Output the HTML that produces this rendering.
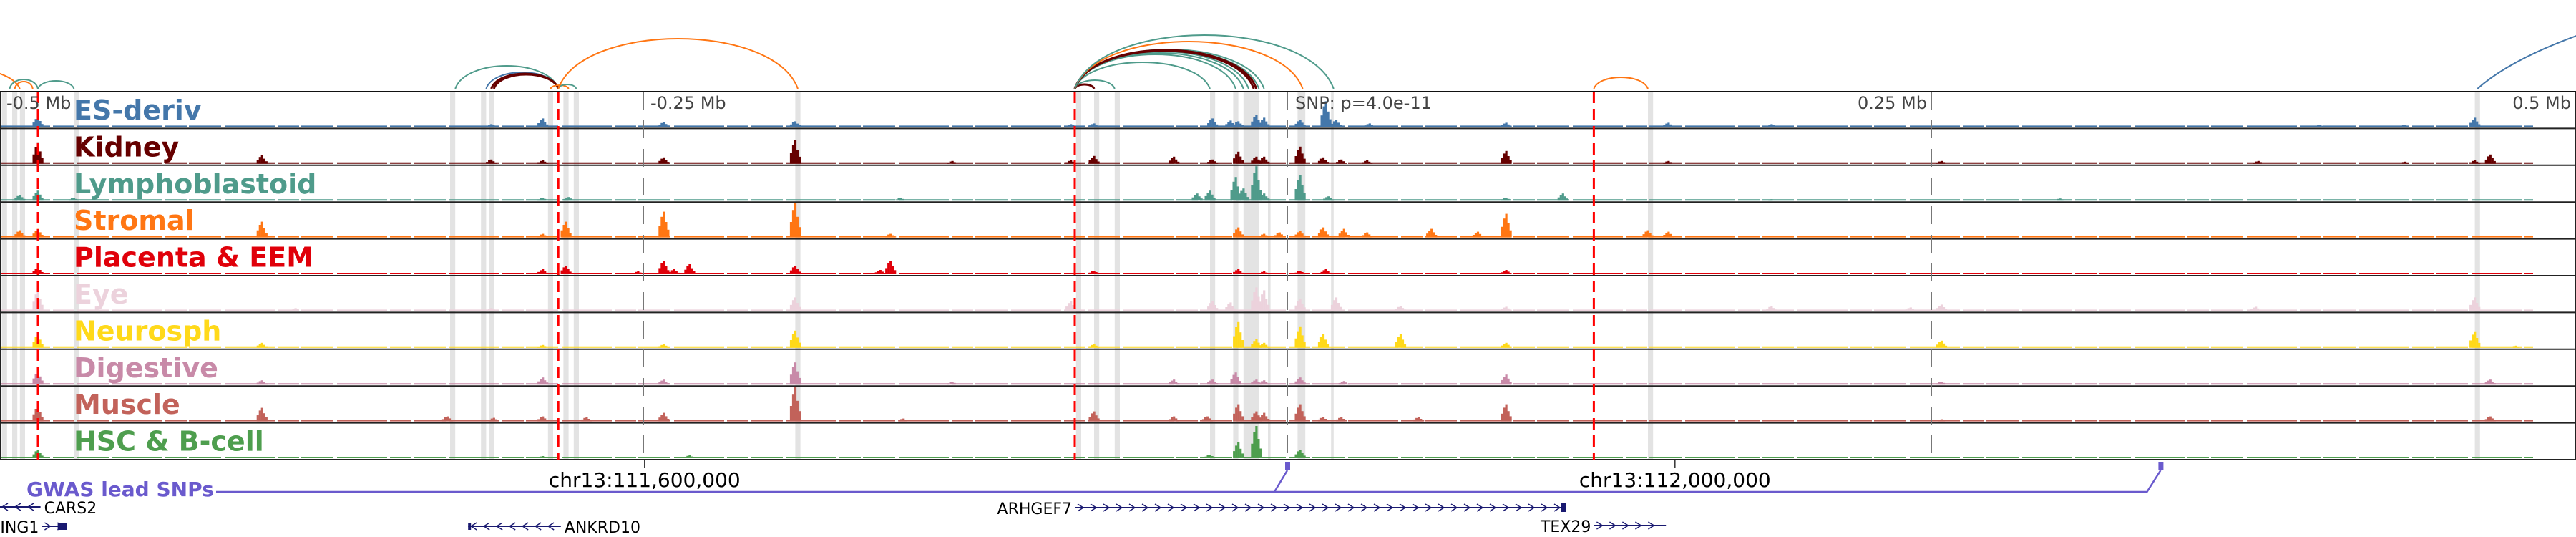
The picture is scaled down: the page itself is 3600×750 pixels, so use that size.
<!DOCTYPE html>
<html><head><meta charset="utf-8"><style>
html,body{margin:0;padding:0;background:#fff}
svg{display:block}
text{font-family:"DejaVu Sans","Liberation Sans",sans-serif}
</style></head><body>
<svg id="chart" width="3600" height="750" viewBox="0 0 3600 750" xmlns="http://www.w3.org/2000/svg">
<g id="bands"></g>
<g id="arcs"></g>
<g id="tracks"></g>
<g id="vlines"></g>
<g id="labels"></g>
<g id="genes"></g>
</svg>
<script>
// ---- data ----
const trackNames = ["ES-deriv","Kidney","Lymphoblastoid","Stromal","Placenta & EEM","Eye","Neurosph","Digestive","Muscle","HSC & B-cell"];
const trackColors = ["#4477aa","#660000","#4f9b8b","#ff7613","#e0000a","#ecd2dc","#ffd91a","#c88aa8","#c2625a","#4e9e4e"];
const peaksES = [[-485,14],[-309,4],[-289,12],[-242,7],[-191,8],[-84,4],[-75,5],[-29,12],[-22,9],[-19,8],[-12,17],[-9,13],[5,10],[15,36],[19,10],[32,5],[85,6],[148,6],[188,4],[401,3],[434,3],[461,13]];
const peaksKidney = [[-485,29],[-398,12],[-309,6],[-289,5],[-242,9],[-191,33],[-130,4],[-84,5],[-75,11],[-44,10],[-29,6],[-19,17],[-12,10],[-9,10],[5,24],[14,9],[21,6],[31,5],[85,18],[148,4],[254,4],[377,4],[434,3],[461,5],[467,13]];
const peaksLympho = [[-485,14],[-492,8],[-471,4],[-289,4],[-279,5],[-150,4],[-35,10],[-30,14],[-20,33],[-17,17],[-12,48],[-9,10],[5,36],[16,6],[85,4],[107,10],[188,2],[300,3]];
const peaksStromal = [[-492,10],[-485,12],[-398,22],[-289,5],[-280,22],[-242,36],[-191,48],[-154,5],[-19,14],[-9,5],[-3,7],[5,9],[14,14],[22,12],[31,7],[56,12],[74,8],[85,33],[140,10],[148,8]];
const peaksPlacenta = [[-485,10],[-289,7],[-280,12],[-252,4],[-242,19],[-238,7],[-232,14],[-191,12],[-158,6],[-154,19],[-75,5],[-19,7],[-9,4],[5,5],[15,7],[85,6]];
const peaksEye = [[-485,29],[-385,4],[-309,4],[-191,19],[-84,14],[-29,14],[-22,12],[-12,33],[-9,29],[5,17],[19,19],[44,7],[85,6],[188,7],[242,5],[254,9],[376,6],[461,19]];
const peaksNeuro = [[-485,19],[-398,7],[-289,4],[-242,5],[-191,24],[-75,5],[-19,36],[-12,12],[-9,7],[5,29],[14,19],[44,19],[85,7],[254,10],[461,23],[477,3]];
const peaksDigestive = [[-485,19],[-398,6],[-289,10],[-242,7],[-191,31],[-130,4],[-44,7],[-29,7],[-20,17],[-12,7],[-9,6],[5,10],[22,5],[85,14],[254,4],[467,7]];
const peaksMuscle = [[-485,22],[-398,19],[-326,7],[-308,5],[-289,7],[-272,6],[-242,12],[-191,48],[-149,4],[-75,14],[-44,7],[-31,7],[-19,24],[-12,14],[-9,12],[5,24],[14,6],[21,6],[51,6],[85,24],[254,3],[467,7]];
const peaksHSC = [[-485,12],[-289,3],[-232,4],[-30,5],[-19,22],[-12,45],[5,12],[188,2]];
const trackPeaks = [peaksES,peaksKidney,peaksLympho,peaksStromal,peaksPlacenta,peaksEye,peaksNeuro,peaksDigestive,peaksMuscle,peaksHSC];
// arcs: start kb, end kb, height, color
const arcStarts = [-540,-496,-494,-485,-323,-311,-309,-308,-286,-283,-283,-82.5,-82.5,-82.5,-82.5,-82.5,-82.5,-82.5,-82.5,-82.5,-82.5,-82.5,-82.5,-82.5,119,462];
const arcEnds   = [-492,-485,-487,-471,-283,-283,-283,-283,-279,-276,-190,-75,-67,-30,-20,-17,-15,-13,-11,-9,-12,-13,6,18,140,1500];
const arcHeights= [30,13,10,11,32,23,21,20,5,6,70,6,12,37,48,50,52,53,54,55,54,53,66,75,16,250];
const arcColors = ["#ff7613","#4f9b8b","#ff7613","#4f9b8b","#4f9b8b","#4477aa","#660000","#660000","#ff7613","#4f9b8b","#ff7613","#660000","#4f9b8b","#4f9b8b","#4f9b8b","#4f9b8b","#4f9b8b","#4f9b8b","#4f9b8b","#4f9b8b","#660000","#660000","#ff7613","#4f9b8b","#ff7613","#4477aa"];
// highlighted regions (kb start, kb end)
const bandStarts = [-499,-495,-492,-471,-325,-313,-310,-287,-281,-277,-191,-82,-75,-67,-30,-21,-17,-7.5,4,17,140,461];
const bandEnds   = [-497,-493,-490,-469,-323,-311,-308,-285,-279,-275,-189,-80,-73,-65,-28,-19,-11,-6.5,7,18,142,463];
const redLines = [-485,-283,-82.5,119];
const grayTicks = [-250,0,250];
const axisLabels = ["-0.5 Mb","-0.25 Mb","0.25 Mb","0.5 Mb"];
const gwasSNPs = [0,339];

// ---- scales ----
const SNP_X = 1799, PX_PER_KB = 3.6;
function X(kb){ return SNP_X + kb*PX_PER_KB; }
const TOP = 128, TH = 51.4, NT = trackNames.length;
function trackTop(i){ return TOP + i*TH; }
const NS = "http://www.w3.org/2000/svg";
function mk(tag, attrs, parent){ const e=document.createElementNS(NS,tag); for(const k in attrs) e.setAttribute(k,attrs[k]); parent.appendChild(e); return e; }

const gB = document.getElementById('bands');
bandStarts.forEach((s,i)=>{
  const r = mk('rect',{x:X(s),y:TOP,width:Math.max(3,X(bandEnds[i])-X(s)),height:NT*TH,fill:'#e3e3e3'},gB);
  
  
});

const gA = document.getElementById('arcs');
const ARC_BASE = 124;
arcStarts.forEach((s,i)=>{
  const x1=X(s), x2=X(arcEnds[i]), w=x2-x1, h=arcHeights[i]*1.333;
  const d = `M${x1},${ARC_BASE} C${x1+w*0.1},${ARC_BASE-h} ${x2-w*0.1},${ARC_BASE-h} ${x2},${ARC_BASE}`;
  const p = mk('path',{d:d,fill:'none',stroke:arcColors[i],'stroke-width':arcColors[i]=='#660000'?3:2},gA);
  
  
});

const gT = document.getElementById('tracks');
for(let t=0;t<NT;t++){
  const top = trackTop(t), bot = top+TH-2;
  const g = mk('g',{},gT);
  
  
  const col = trackColors[t];
  mk('line',{x1:0,y1:bot-1,x2:3540,y2:bot-1,stroke:col,'stroke-width':2,'stroke-dasharray':'70 4 30 3 45 5'},g);
  trackPeaks[t].forEach(pk=>{
    const cx = X(pk[0]), h = pk[1];
    const parts = [[-2,0.45],[-1,0.8],[0,1],[1,0.6],[2,0.3]];
    parts.forEach(pp=>{
      const hh = h*pp[1];
      if(hh<1.5) return;
      const r = mk('rect',{x:cx+pp[0]*3-1.5,y:bot-hh,width:3.2,height:hh,fill:col},g);
      
      
    });
  });
  const sep = mk('line',{x1:0,y1:top+TH,x2:3600,y2:top+TH,stroke:'#222','stroke-width':2},g);
  
  
}
const frameTop = mk('line',{x1:0,y1:TOP,x2:3600,y2:TOP,stroke:'#111','stroke-width':2},gT);


mk('line',{x1:1,y1:TOP,x2:1,y2:TOP+NT*TH,stroke:'#222','stroke-width':2},gT);
mk('line',{x1:3599,y1:TOP,x2:3599,y2:TOP+NT*TH,stroke:'#222','stroke-width':2},gT);

const gV = document.getElementById('vlines');
redLines.forEach(kb=>{
  const l = mk('line',{x1:X(kb),y1:TOP,x2:X(kb),y2:TOP+NT*TH,stroke:'#ff0000','stroke-width':3,'stroke-dasharray':'16 8'},gV);
  
  
});
grayTicks.forEach(kb=>{
  const l = mk('line',{x1:X(kb),y1:TOP,x2:X(kb),y2:TOP+NT*TH,stroke:'#777','stroke-width':2,'stroke-dasharray':'25 15'},gV);
  
  
});
const axisKb = [-500,-250,250,500];
axisLabels.forEach((s,i)=>{
  const kb = axisKb[i];
  let x = X(kb)+10, anchor='start';
  if(kb>0){ x = X(kb)-6; anchor='end'; }
  if(kb<=-500) x = 9;
  const tx = mk('text',{x:x,y:152,'font-size':24,fill:'#444','text-anchor':anchor},gV);
  tx.textContent = s;
  
  
});
const snpT = mk('text',{x:X(0)+11,y:152,'font-size':24,fill:'#444'},gV);
snpT.textContent = "SNP: p=4.0e-11";



const gL = document.getElementById('labels');
trackNames.forEach((n,i)=>{
  const tx = mk('text',{x:103,y:trackTop(i)+39,'font-size':38,'font-weight':'bold',fill:trackColors[i]},gL);
  tx.textContent = n;
  
  
});

const gG = document.getElementById('genes');
const chrKb = [-249.5,150.5];
const chrLabels = ["chr13:111,600,000","chr13:112,000,000"];
chrKb.forEach((kb,i)=>{
  mk('line',{x1:X(kb),y1:642,x2:X(kb),y2:654,stroke:'#333','stroke-width':1.5},gG);
  const tx = mk('text',{x:X(kb),y:680,'font-size':28,'text-anchor':'middle',fill:'#000'},gG);
  tx.textContent = chrLabels[i];
  
  
});
const gw = mk('text',{x:37,y:693,'font-size':28,'font-weight':'bold',fill:'#6a5acd'},gG);
gw.textContent = "GWAS lead SNPs";


const gwX0 = 302, gwX1 = X(gwasSNPs[1])-19;
mk('path',{d:`M${gwX0},687 L${X(gwasSNPs[0])-18},687 L${X(gwasSNPs[0])},657 M${X(gwasSNPs[0])-18},687 L${gwX1},687 L${gwX1+19},657`,fill:'none',stroke:'#6a5acd','stroke-width':2.5},gG);
gwasSNPs.forEach(kb=>{
  const r = mk('rect',{x:X(kb)-3,y:645,width:7,height:12,fill:'#6a5acd'},gG);
  
  
});

const geneNames = ["CARS2","ING1","ANKRD10","ARHGEF7","TEX29"];
const geneStarts = [-500,-483.5,-318,-82.5,119];
const geneEnds = [-484,-474,-282,107.5,147];
const geneY = [708,735,735,709,734];
const geneDir = [-1,1,-1,1,1];
const geneLabelSide = ["right","left","right","left","left"];
geneNames.forEach((n,i)=>{
  const x1=X(geneStarts[i]), x2=X(geneEnds[i]), y=geneY[i];
  const g = mk('g',{},gG);
  
  
  mk('line',{x1:x1,y1:y,x2:x2,y2:y,stroke:'#191970','stroke-width':2},g);
  for(let x=x1+8;x<x2-6;x+=18){
    const d = geneDir[i];
    mk('path',{d:`M${x-4*d},${y-5} L${x+4*d},${y} L${x-4*d},${y+5}`,fill:'none',stroke:'#191970','stroke-width':1.5},g);
  }
  if(n==="ING1") mk('rect',{x:x2-12,y:y-5,width:13,height:10,fill:'#191970'},g);
  if(n==="ARHGEF7") mk('rect',{x:x2-5,y:y-6,width:8,height:12,fill:'#191970'},g);
  if(n==="ANKRD10") mk('rect',{x:x1,y:y-5,width:4,height:10,fill:'#191970'},g);
  const side = geneLabelSide[i];
  const tx = mk('text',{x: side==="right"? x2+5 : x1-4, y:y+9,'font-size':22,fill:'#000','text-anchor': side==="right"?'start':'end'},g);
  tx.textContent = n;
});
</script>
</body></html>
